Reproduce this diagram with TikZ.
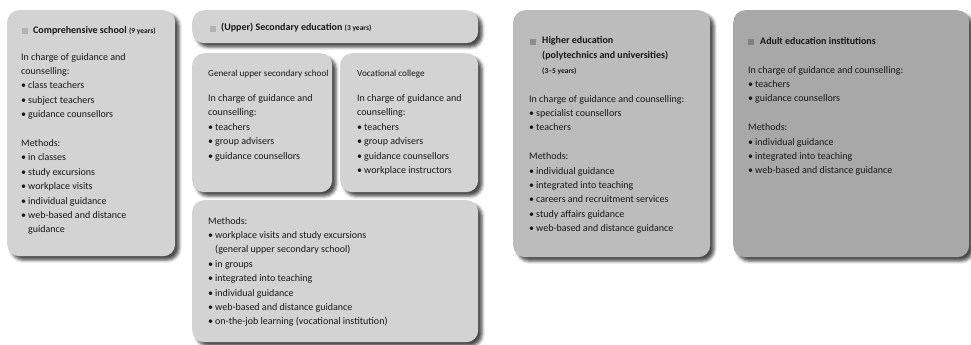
\documentclass[tikz,border=0pt]{standalone}
\usepackage{fontspec}
\setmainfont{Carlito}
\usetikzlibrary{positioning,shadows.blur}

\definecolor{boxlight}{HTML}{D3D3D3}
\definecolor{boxmid}{HTML}{BCBCBC}
\definecolor{boxdark}{HTML}{A8A8A8}
\definecolor{taglight}{HTML}{B2B2B2}
\definecolor{tagmid}{HTML}{8E8E8E}
\definecolor{tagdark}{HTML}{808080}
\definecolor{ink}{HTML}{181818}

\newcommand{\itm}{\makebox[7pt][l]{\textbullet}}
\newcommand{\cont}{\hspace*{7pt}}
\newcommand{\yrs}[1]{{\fontsize{7.5}{8}\selectfont #1}}
\newcommand{\ttl}[1]{{\fontsize{9.2}{14.4}\selectfont #1}}

\tikzset{
	panel/.style={fill=#1, rounded corners=12pt, anchor=north west, inner sep=0pt,
		blur shadow={shadow xshift=4pt, shadow yshift=-4pt, shadow blur radius=3pt, shadow opacity=70}},
	tag/.style={fill=#1, minimum size=6pt, inner sep=0pt},
	headtxt/.style={anchor=north west, inner sep=0pt, align=left, text=ink,
		font=\fontsize{10}{14.4}\selectfont\bfseries},
	bodytxt/.style={anchor=north west, inner sep=0pt, align=left, text=ink,
		font=\fontsize{10}{14.4}\selectfont},
}

\begin{document}
\begin{tikzpicture}[x=1pt,y=-1pt]
	\useasboundingbox (0,0) rectangle (971,345);

	%comprehensive school
	\node[panel=boxlight, minimum width=168pt, minimum height=246pt] (compbox) at (7,10) {};
	\node[tag=taglight] (comptag) at (25,31) {};
	\node[headtxt] (comphead) at (33,26.5) {Comprehensive school \yrs{(9 years)}};
	\node[bodytxt] (compbody) at (21,53) {In charge of guidance and\\counselling:\\
		\itm class teachers\\\itm subject teachers\\\itm guidance counsellors\\[14.4pt]
		Methods:\\\itm in classes\\\itm study excursions\\\itm workplace visits\\
		\itm individual guidance\\\itm web-based and distance\\\cont guidance};

	%upper secondary education
	\node[panel=boxlight, minimum width=286pt, minimum height=33pt] (secbox) at (192,10) {};
	\node[tag=taglight] (sectag) at (213,29) {};
	\node[headtxt] (sechead) at (221,23) {(Upper) Secondary education \yrs{(3 years)}};

	\node[panel=boxlight, minimum width=140pt, minimum height=139pt] (genbox) at (192,53) {};
	\node[bodytxt] (genbody) at (208,70) {\ttl{General upper secondary school}\\[10.6pt]
		In charge of guidance and\\counselling:\\
		\itm teachers\\\itm group advisers\\\itm guidance counsellors};

	\node[panel=boxlight, minimum width=138pt, minimum height=139pt] (vocbox) at (340,53) {};
	\node[bodytxt] (vocbody) at (357,70) {\ttl{Vocational college}\\[10.6pt]
		In charge of guidance and\\counselling:\\
		\itm teachers\\\itm group advisers\\\itm guidance counsellors\\\itm workplace instructors};

	\node[panel=boxlight, minimum width=286pt, minimum height=142pt] (methbox) at (192,200) {};
	\node[bodytxt] (methbody) at (208,217) {Methods:\\
		\itm workplace visits and study excursions\\\cont (general upper secondary school)\\
		\itm in groups\\\itm integrated into teaching\\\itm individual guidance\\
		\itm web-based and distance guidance\\\itm on-the-job learning (vocational institution)};

	%higher education
	\node[panel=boxmid, minimum width=197pt, minimum height=247pt] (highbox) at (513,10) {};
	\node[tag=tagmid] (hightag) at (533,42) {};
	\node[headtxt] (highhead) at (542,36.5) {Higher education\\(polytechnics and universities)\\[1pt]\yrs{(3--5 years)}};
	\node[bodytxt] (highbody) at (529,95) {In charge of guidance and counselling:\\
		\itm specialist counsellors\\\itm teachers\\[14.4pt]
		Methods:\\\itm individual guidance\\\itm integrated into teaching\\
		\itm careers and recruitment services\\\itm study affairs guidance\\
		\itm web-based and distance guidance};

	%adult education
	\node[panel=boxdark, minimum width=236pt, minimum height=247pt] (adultbox) at (733,10) {};
	\node[tag=tagdark] (adulttag) at (751,42) {};
	\node[headtxt] (adulthead) at (760,37) {Adult education institutions};
	\node[bodytxt] (adultbody) at (748,66) {In charge of guidance and counselling:\\
		\itm teachers\\\itm guidance counsellors\\[14.4pt]
		Methods:\\\itm individual guidance\\\itm integrated into teaching\\
		\itm web-based and distance guidance};
\end{tikzpicture}
\end{document}
